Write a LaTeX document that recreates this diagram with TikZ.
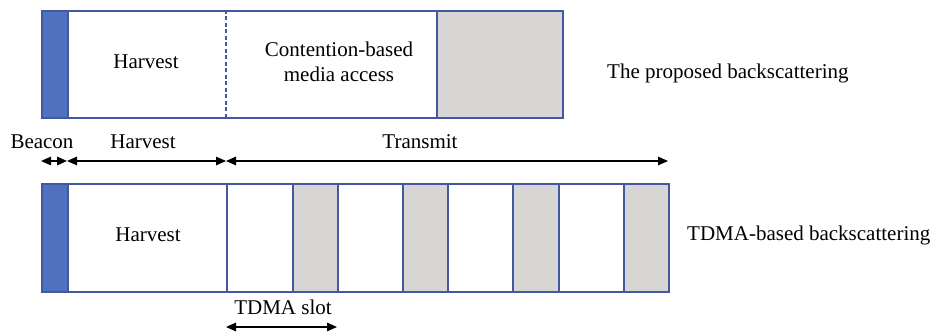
\documentclass[tikz,border=0pt]{standalone}
\usepackage{fontspec}
\setmainfont{Liberation Serif}
\usetikzlibrary{arrows.meta,calc}
\definecolor{frameblue}{RGB}{68,88,162}
\definecolor{beaconblue}{RGB}{80,114,190}
\definecolor{slotgrey}{RGB}{216,213,213}
\tikzset{
  cell/.style={draw=frameblue, line width=1.7pt, inner sep=0pt, anchor=north west},
  beaconcell/.style={cell, fill=beaconblue},
  whitecell/.style={cell, fill=white},
  greycell/.style={cell, fill=slotgrey},
  lbl/.style={inner sep=0pt, font=\fontsize{21}{25}\selectfont, align=center},
  span/.style={line width=1.4pt, {Triangle[length=10pt,width=8.5pt]}-{Triangle[length=10pt,width=8.5pt]}},
}
\begin{document}
\begin{tikzpicture}[x=1pt,y=-1pt]
  \useasboundingbox (0,0) rectangle (937,334);

  % proposed scheme: beacon, harvest + contention, transmission
  \node[beaconcell, minimum width=26pt, minimum height=107pt] (tb) at (41,10) {};
  \node[whitecell, minimum width=369pt, minimum height=107pt] (tw) at (67,10) {};
  \node[greycell, minimum width=126pt, minimum height=107pt] (tg) at (436,10) {};
  \draw[frameblue, line width=1.4pt, dash pattern=on 4pt off 2.5pt]
    ($(tw.north west)+(159,0)$) -- ($(tw.south west)+(159,0)$);
  \node[lbl] (tharv) at (146,62) {Harvest};
  \node[lbl] (tcont) at (339,62) {Contention-based\\media access};
  \node[lbl, anchor=west] (tname) at (607,73) {The proposed backscattering};

  % phase spans
  \coordinate (s0) at (41,161);
  \coordinate (s1) at (67,161);
  \coordinate (s2) at (226,161);
  \coordinate (s3) at (668,161);
  \draw[span] (s0) -- (s1);
  \draw[span] (s1) -- (s2);
  \draw[span] (s2) -- (s3);
  \node[lbl] (lbeacon) at (42,142) {Beacon};
  \node[lbl] (lharv) at (143,142) {Harvest};
  \node[lbl] (ltx) at (420,142) {Transmit};

  % TDMA scheme: beacon, harvest, alternating slots
  \node[beaconcell, minimum width=26pt, minimum height=108pt] (bb) at (41,183) {};
  \node[whitecell, minimum width=159pt, minimum height=108pt] (bh) at (67,183) {};
  \node[whitecell, minimum width=66pt, minimum height=108pt] (w1) at (226,183) {};
  \node[greycell, minimum width=45pt, minimum height=108pt] (g1) at (292,183) {};
  \node[whitecell, minimum width=65pt, minimum height=108pt] (w2) at (337,183) {};
  \node[greycell, minimum width=45pt, minimum height=108pt] (g2) at (402,183) {};
  \node[whitecell, minimum width=65pt, minimum height=108pt] (w3) at (447,183) {};
  \node[greycell, minimum width=46pt, minimum height=108pt] (g3) at (512,183) {};
  \node[whitecell, minimum width=65pt, minimum height=108pt] (w4) at (558,183) {};
  \node[greycell, minimum width=45pt, minimum height=108pt] (g4) at (623,183) {};
  \node[lbl] (bharv) at (148,235) {Harvest};
  \node[lbl, anchor=west] (bname) at (687,235) {TDMA-based backscattering};

  % slot width marker
  \coordinate (d0) at (226,327);
  \coordinate (d1) at (337,327);
  \draw[span] (d0) -- (d1);
  \node[lbl] (lslot) at (283,307) {TDMA slot};
\end{tikzpicture}
\end{document}
